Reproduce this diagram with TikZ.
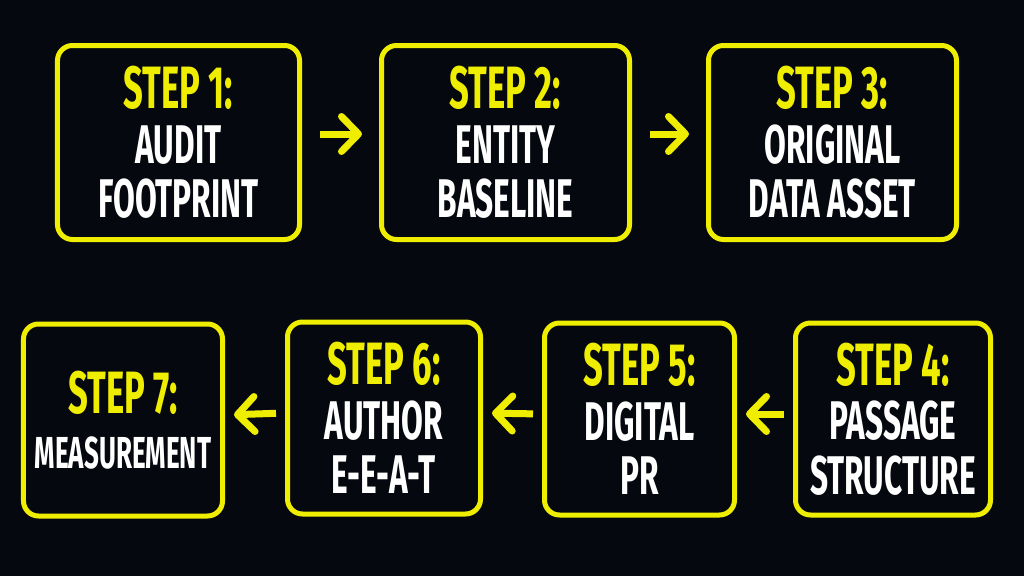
\documentclass[tikz,border=0pt]{standalone}
\usepackage{fontspec}
\newfontfamily\stepfont{Fira Sans}[FakeStretch=0.58]
\definecolor{BG}{RGB}{5,9,15}
\definecolor{STY}{RGB}{240,238,0}
\usetikzlibrary{arrows.meta}

\newcommand{\steplabel}[1]{{\color{STY}\fontsize{34}{31}\selectfont STEP #1:}}

\begin{document}
\begin{tikzpicture}[x=0.2mm,y=-0.2mm,
    stepbox/.style={draw=STY,line width=1mm,rounded corners=3mm,text=white,align=center,
                    font=\stepfont\bfseries\fontsize{31}{31}\selectfont},
    flow/.style={draw=STY,line width=1.4mm,-{Straight Barb[round,length=3.4mm,width=7mm]}}]
  \fill[BG] (0,0) rectangle (1024,576);

  % top row, left to right
  \node[stepbox,minimum width=48.4mm,minimum height=38.8mm] (audit) at (178.5,142.5) {\steplabel{1}\\AUDIT\\FOOTPRINT};
  \node[stepbox,minimum width=49.6mm,minimum height=38.8mm] (entity) at (505.5,142.5) {\steplabel{2}\\ENTITY\\BASELINE};
  \node[stepbox,minimum width=49.6mm,minimum height=38.8mm] (asset) at (832.5,142.5) {\steplabel{3}\\ORIGINAL\\DATA ASSET};

  % bottom row, right to left
  \node[stepbox,minimum width=39mm,minimum height=38.4mm] (passage) at (893,419) {\steplabel{4}\\PASSAGE\\STRUCTURE};
  \node[stepbox,minimum width=38mm,minimum height=38.4mm] (digital) at (639.5,419) {\steplabel{5}\\DIGITAL\\PR};
  \node[stepbox,minimum width=38.6mm,minimum height=38.4mm] (author) at (384,418) {\steplabel{6}\\AUTHOR\\E-E-A-T};
  \node[stepbox,minimum width=39.8mm,minimum height=38.4mm] (measure) at (123,420)
       {\steplabel{7}\\{\fontsize{25.5}{31}\selectfont MEASUREMENT}};

  \draw[flow,shorten <=3.6mm,shorten >=3.4mm] ([yshift=1.7mm]audit.east) -- ([yshift=1.7mm]entity.west);
  \draw[flow,shorten <=3.6mm,shorten >=3.4mm] ([yshift=1.7mm]entity.east) -- ([yshift=1.7mm]asset.west);
  \draw[flow,shorten <=1.8mm,shorten >=1.8mm] ([yshift=1mm]passage.west) -- ([yshift=1mm]digital.east);
  \draw[flow,shorten <=1.8mm,shorten >=1.8mm] ([yshift=1mm]digital.west) -- ([yshift=1mm]author.east);
  \draw[flow,shorten <=1.8mm,shorten >=1.8mm] ([yshift=1mm]author.west) -- ([yshift=1mm]measure.east);
\end{tikzpicture}
\end{document}
